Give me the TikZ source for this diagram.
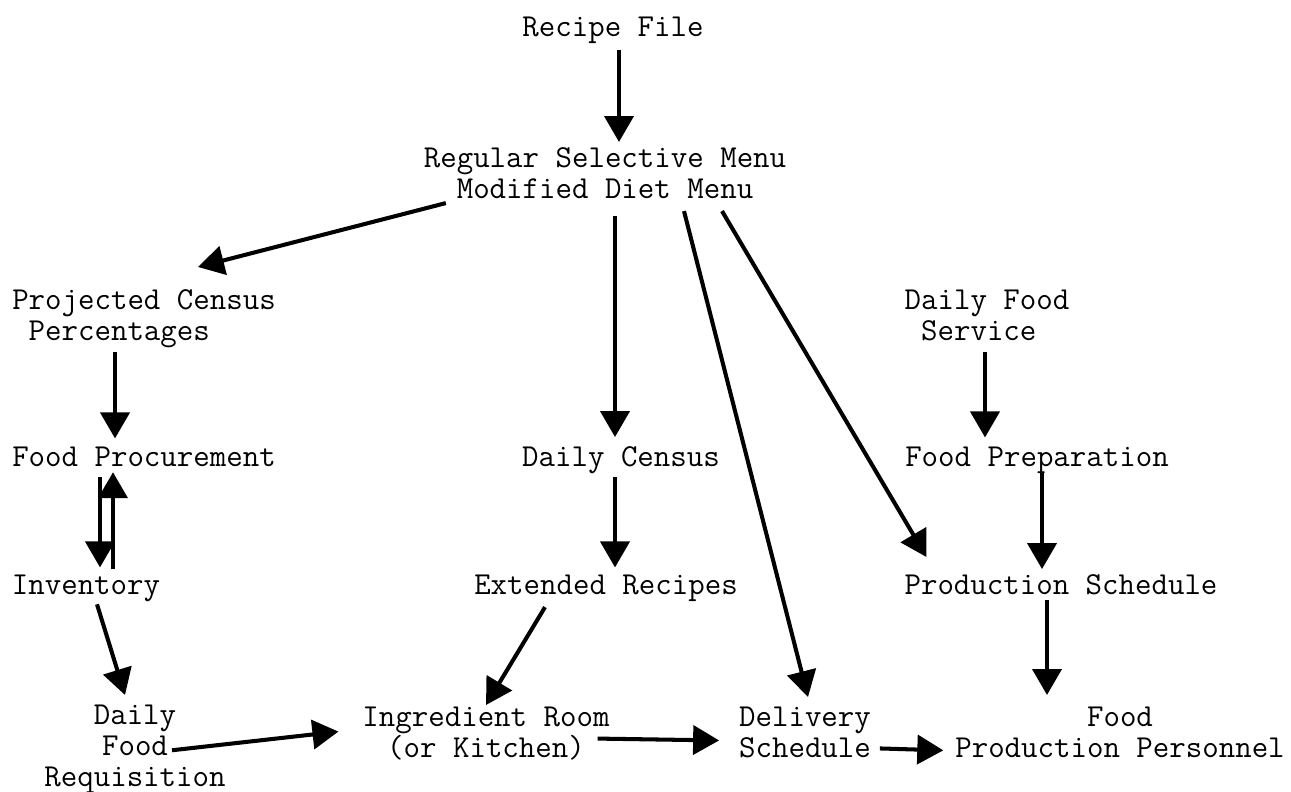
\documentclass[tikz,border=0pt]{standalone}
\usetikzlibrary{arrows.meta,calc}
\begin{document}
\begin{tikzpicture}[x=0.02cm, y=-0.02cm, line width=2.3pt, >={Triangle[length=0.52cm,width=0.58cm]},main node/.style={font=\ttfamily\fontsize{18.2}{17.6}\selectfont,inner sep=0pt,align=center}]
\useasboundingbox (0,0) rectangle (1291,791);
\begin{scope}[every node/.style={main node}]
\node[anchor=base] (recipe) at (613,36) {Recipe File};
\node[anchor=north] (menu) at (605,146) {Regular Selective Menu\\Modified Diet Menu};
\node[anchor=north,align=left] (census) at (144,288) {Projected Census\\\hphantom{x}Percentages};
\node[anchor=north,align=left] (service) at (987,288) {Daily Food\\\hphantom{x}Service};
\node[anchor=base] (procure) at (144,466) {Food Procurement};
\node[anchor=base] (dcensus) at (621,466) {Daily Census};
\node[anchor=base] (prep) at (1037,466) {Food Preparation};
\node[anchor=base] (inventory) at (86,594) {Inventory};
\node[anchor=base] (extrec) at (606,594) {Extended Recipes};
\node[anchor=base] (prodsched) at (1061,594) {Production Schedule};
\node[anchor=north] (requisition) at (135,703) {Daily\\Food\\Requisition};
\node[anchor=north] (ingredient) at (486,705) {Ingredient Room\\(or Kitchen)};
\node[anchor=north,align=left] (delivery) at (805,705) {Delivery\\Schedule};
\node[anchor=north] (personnel) at (1120,705) {Food\\Production Personnel};
\end{scope}
\begin{scope}[->]
\draw ($(recipe.south)+(6,5)$) -- ($(menu.north)+(14,-4)$);
\draw ($(menu.south west)+(24,2)$) -- ($(census.north)+(54,-21)$);
\draw ($(menu.south)+(10,15)$) -- ($(dcensus.north)+(-6,-7)$);
\draw ($(menu.south)+(79,10)$) -- ($(delivery.north)+(3,-8)$);
\draw ($(menu.south)+(117,10)$) -- ($(prodsched.north west)+(24,-15)$);
\draw ($(census.south)+(-29,2)$) -- ($(procure.north)+(-29,-6)$);
\draw ($(procure.south)+(-44,9)$) -- ($(inventory.north)+(14,-5)$);
\draw ($(inventory.north)+(27,-3)$) -- ($(procure.south)+(-31,4)$);
\draw ($(inventory.south)+(11,1)$) -- ($(requisition.north)+(-10,-8)$);
\draw ($(requisition.center)+(37,1)$) -- ($(ingredient.west)+(-22,-2)$);
\draw ($(extrec.south)+(-61,4)$) -- (ingredient.north);
\draw ($(dcensus.south)+(-6,2)$) -- ($(extrec.north)+(9,-5)$);
\draw ($(ingredient.east)+(-14,5)$) -- ($(delivery.west)+(-18,8)$);
\draw ($(delivery.east)+(7,16)$) -- ($(personnel.west)+(-10,18)$);
\draw ($(service.south)+(-2,9)$) -- ($(prep.north)+(-52,-7)$);
\draw ($(prep.south)+(5,-3)$) -- ($(prodsched.north)+(-19,-3)$);
\draw ($(prodsched.south)+(-14,4)$) -- ($(personnel.north)+(-73,-10)$);
\end{scope}
\end{tikzpicture}
\end{document}
